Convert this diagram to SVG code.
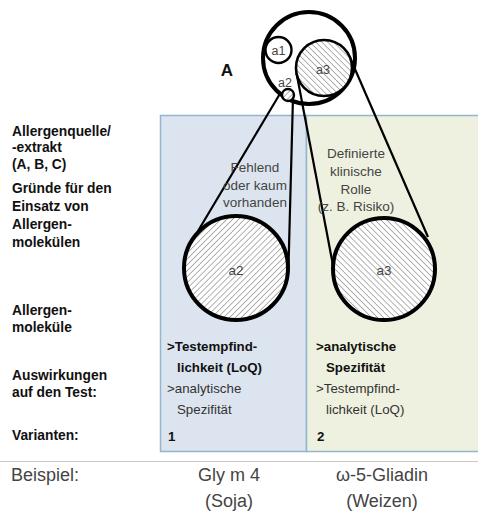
<svg xmlns="http://www.w3.org/2000/svg" width="478" height="511" viewBox="0 0 478 511">
<style>
.lab{font-family:"Liberation Sans",Arial,sans-serif;font-weight:bold;font-size:13.8px;fill:#111}
.cap{font-family:"Liberation Sans",Arial,sans-serif;font-size:13.5px;fill:#444;text-anchor:middle}
.sm{font-family:"Liberation Sans",Arial,sans-serif;font-size:12.5px;fill:#444;text-anchor:middle}
.pb{font-family:"Liberation Sans",Arial,sans-serif;font-weight:bold;font-size:13.3px;fill:#111}
.pr{font-family:"Liberation Sans",Arial,sans-serif;font-size:13.3px;fill:#333}
.ex{font-family:"Liberation Sans",Arial,sans-serif;font-size:18px;fill:#444}
.ring{fill:none;stroke:#000}
.conn{stroke:#000;stroke-width:2.2;fill:none}
</style>
<defs>
<pattern id="hatchR" patternUnits="userSpaceOnUse" width="4.2" height="4.2" patternTransform="rotate(45)">
<rect width="4.2" height="4.2" fill="#fff"/>
<line x1="0" y1="0" x2="0" y2="4.2" stroke="#8a8a8a" stroke-width="1.3"/>
</pattern>
<pattern id="hatchL" patternUnits="userSpaceOnUse" width="4.2" height="4.2" patternTransform="rotate(-45)">
<rect width="4.2" height="4.2" fill="#fff"/>
<line x1="0" y1="0" x2="0" y2="4.2" stroke="#8a8a8a" stroke-width="1.3"/>
</pattern>
</defs>
<rect width="478" height="511" fill="#fff"/>
<g id="panel-1">
<rect x="160.5" y="115.5" width="146" height="336" fill="#dce4ef" stroke="#93b6cf" stroke-width="1.5"/>
</g>
<g id="panel-2">
<rect x="306.5" y="115.5" width="175" height="336" fill="#eef1df" stroke="#93b6cf" stroke-width="1.5"/>
</g>
<line x1="0" y1="461.5" x2="478" y2="461.5" stroke="#c8c8c8" stroke-width="1.2"/>
<g id="row-labels">
<text class="lab" x="12" y="136">Allergenquelle/</text>
<text class="lab" x="12" y="152">-extrakt</text>
<text class="lab" x="12" y="169">(A, B, C)</text>
<text class="lab" x="12" y="193">Gründe für den</text>
<text class="lab" x="12" y="211">Einsatz von</text>
<text class="lab" x="12" y="229">Allergen-</text>
<text class="lab" x="12" y="247">molekülen</text>
<text class="lab" x="12" y="315">Allergen-</text>
<text class="lab" x="12" y="332">moleküle</text>
<text class="lab" x="12" y="380">Auswirkungen</text>
<text class="lab" x="12" y="397">auf den Test:</text>
<text class="lab" x="12" y="440">Varianten:</text>
</g>
<g id="connectors">
<line class="conn" x1="281" y1="92" x2="198" y2="231"/>
<line class="conn" x1="293" y1="97" x2="288.5" y2="266"/>
<line class="conn" x1="296.5" y1="73" x2="333.5" y2="268"/>
<line class="conn" x1="349.6" y1="56.7" x2="428" y2="237"/>
</g>
<g id="source-A">
<circle class="ring" cx="309" cy="58" r="46" stroke-width="4"/>
<text x="227" y="76" font-family="'Liberation Sans',Arial,sans-serif" font-weight="bold" font-size="17" text-anchor="middle" fill="#111">A</text>
</g>
<g id="a1">
<circle class="ring" cx="278.5" cy="50" r="13" stroke-width="2.4" fill="#fff"/>
<text class="sm" x="278.5" y="54.5">a1</text>
</g>
<g id="a3-small">
<circle cx="324" cy="68" r="28" fill="url(#hatchL)" stroke="#000" stroke-width="2.6"/>
<text class="sm" x="323" y="73.5">a3</text>
</g>
<g id="a2-small">
<text class="sm" x="285" y="86.5">a2</text>
<circle cx="288" cy="95" r="6" fill="url(#hatchR)" stroke="#000" stroke-width="2.4"/>
</g>
<g id="a2-big">
<circle cx="236" cy="268" r="52" fill="url(#hatchR)" stroke="#000" stroke-width="4"/>
<text class="cap" x="236" y="275">a2</text>
</g>
<g id="a3-big">
<circle cx="384" cy="269" r="51" fill="url(#hatchL)" stroke="#000" stroke-width="4"/>
<text class="cap" x="384" y="275">a3</text>
</g>
<g id="reason-1">
<text class="cap" x="255" y="172">Fehlend</text>
<text class="cap" x="255" y="190">oder kaum</text>
<text class="cap" x="255" y="207">vorhanden</text>
</g>
<g id="reason-2">
<text class="cap" x="356" y="158">Definierte</text>
<text class="cap" x="356" y="176">klinische</text>
<text class="cap" x="356" y="194">Rolle</text>
<text class="cap" x="356" y="211">(z. B. Risiko)</text>
</g>
<g id="effect-1">
<text class="pb" x="167" y="351">&gt;Testempfind-</text>
<text class="pb" x="177" y="372">lichkeit (LoQ)</text>
<text class="pr" x="167" y="393">&gt;analytische</text>
<text class="pr" x="177" y="414">Spezifität</text>
<text class="pb" x="168" y="441">1</text>
</g>
<g id="effect-2">
<text class="pb" x="316" y="351">&gt;analytische</text>
<text class="pb" x="326" y="372">Spezifität</text>
<text class="pr" x="316" y="393">&gt;Testempfind-</text>
<text class="pr" x="326" y="414">lichkeit (LoQ)</text>
<text class="pb" x="317" y="441">2</text>
</g>
<g id="examples">
<text class="ex" x="11" y="481">Beispiel:</text>
<text class="ex" x="229" y="481" text-anchor="middle">Gly m 4</text>
<text class="ex" x="229" y="507" text-anchor="middle">(Soja)</text>
<text class="ex" x="382" y="481" text-anchor="middle">ω-5-Gliadin</text>
<text class="ex" x="382" y="507" text-anchor="middle">(Weizen)</text>
</g>
</svg>
